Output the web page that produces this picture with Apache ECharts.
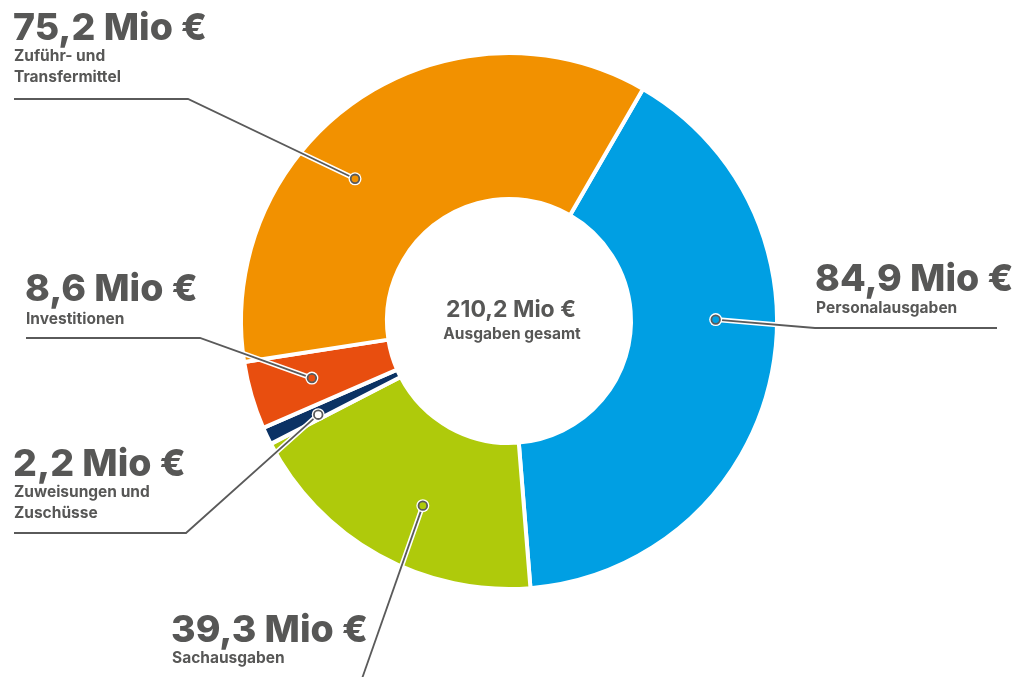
<!DOCTYPE html>
<html><head><meta charset="utf-8">
<script src="https://cdn.jsdelivr.net/npm/echarts@6/dist/echarts.min.js"></script>
<style>html,body{margin:0;padding:0;background:#fff}#c{width:1019px;height:677px}</style>
</head><body><div id="c"></div>
<script>
// ---- data ----
const categories = ['Personalausgaben', 'Sachausgaben', 'Zuweisungen und\nZuschüsse', 'Investitionen', 'Zuführ- und\nTransfermittel'];
const values = [84.9, 39.3, 2.2, 8.6, 75.2];
const colors = ['#009FE3', '#AFCA0B', '#0B3264', '#E84E0F', '#F29100'];
const totalCaption = 'Ausgaben gesamt';

// ---- annotation layout (label anchors, leader elbows, dot placement inside slices) ----
const FONT = 'Inter, Roboto, "Liberation Sans", Arial, sans-serif';
const TEXT = '#575756';
const LINE = '#5a5a5a';
const labelPos = [
  { x: 816, big: 280, sub: 298, elbow: [[815, 328], [997, 328]], t: 0.41, f: 0.58 },
  { x: 172, big: 631, sub: 648, elbow: [[358, 690]], t: 0.44, f: 0.56 },
  { x: 14, big: 465, sub: 482, elbow: [[186, 533], [14, 533]], t: 0.3, f: 0.62 },
  { x: 26, big: 290, sub: 309, elbow: [[200, 338], [26, 338]], t: 0.5, f: 0.57 },
  { x: 14, big: 29, sub: 46, elbow: [[188, 99], [14, 99]], t: 0.40, f: 0.60 }
];

const fmt = v => v.toFixed(1).replace('.', ',') + ' Mio €';
const total = values.reduce((a, b) => a + b, 0);

const chart = echarts.init(document.getElementById('c'), null, { renderer: 'canvas' });
chart.setOption({
  animation: false,
  backgroundColor: '#ffffff',
  series: [{
    type: 'pie',
    center: [509, 321],
    radius: [122, 268],
    startAngle: 60,
    clockwise: true,
    silent: true,
    avoidLabelOverlap: false,
    label: { show: false },
    labelLine: { show: false },
    emphasis: { disabled: true },
    itemStyle: { borderColor: '#ffffff', borderWidth: 4 },
    data: categories.map((c, i) => ({ name: c, value: values[i], itemStyle: { color: colors[i] } }))
  }]
});

const sdata = chart.getModel().getSeriesByIndex(0).getData();
const graphics = [];
categories.forEach((name, i) => {
  const L = sdata.getItemLayout(i);
  const p = labelPos[i];
  const a = L.startAngle + p.t * (L.endAngle - L.startAngle);
  const rr = L.r0 + p.f * (L.r - L.r0);
  const dx = L.cx + rr * Math.cos(a), dy = L.cy + rr * Math.sin(a);
  const pts = [[dx, dy]].concat(p.elbow);
  graphics.push({ type: 'polyline', z: 100, silent: true, shape: { points: pts }, style: { stroke: '#ffffff', lineWidth: 5, fill: null } });
  graphics.push({ type: 'polyline', z: 101, silent: true, shape: { points: pts }, style: { stroke: LINE, lineWidth: 1.8, fill: null } });
  graphics.push({ type: 'circle', z: 102, silent: true, shape: { cx: dx, cy: dy, r: 6.5 }, style: { fill: '#ffffff' } });
  graphics.push({ type: 'circle', z: 103, silent: true, shape: { cx: dx, cy: dy, r: 4.3 }, style: { fill: i === 2 ? '#ffffff' : colors[i], stroke: LINE, lineWidth: 1.8 } });
  graphics.push({ type: 'text', z: 104, silent: true, x: p.x - 1, y: p.big,
    style: { text: fmt(values[i]), font: '800 37.5px ' + FONT, fill: TEXT, verticalAlign: 'middle', align: 'left' } });
  graphics.push({ type: 'text', z: 104, silent: true, x: p.x, y: p.sub,
    style: { text: name, font: '700 15.5px ' + FONT, fill: TEXT, verticalAlign: 'top', align: 'left', lineHeight: 21 } });
});
graphics.push({ type: 'text', z: 104, silent: true, x: 511, y: 310,
  style: { text: fmt(total), font: '700 23px ' + FONT, fill: TEXT, verticalAlign: 'middle', align: 'center' } });
graphics.push({ type: 'text', z: 104, silent: true, x: 512, y: 334,
  style: { text: totalCaption, font: '700 15.5px ' + FONT, fill: TEXT, verticalAlign: 'middle', align: 'center' } });
chart.setOption({ graphic: graphics });
</script></body></html>
